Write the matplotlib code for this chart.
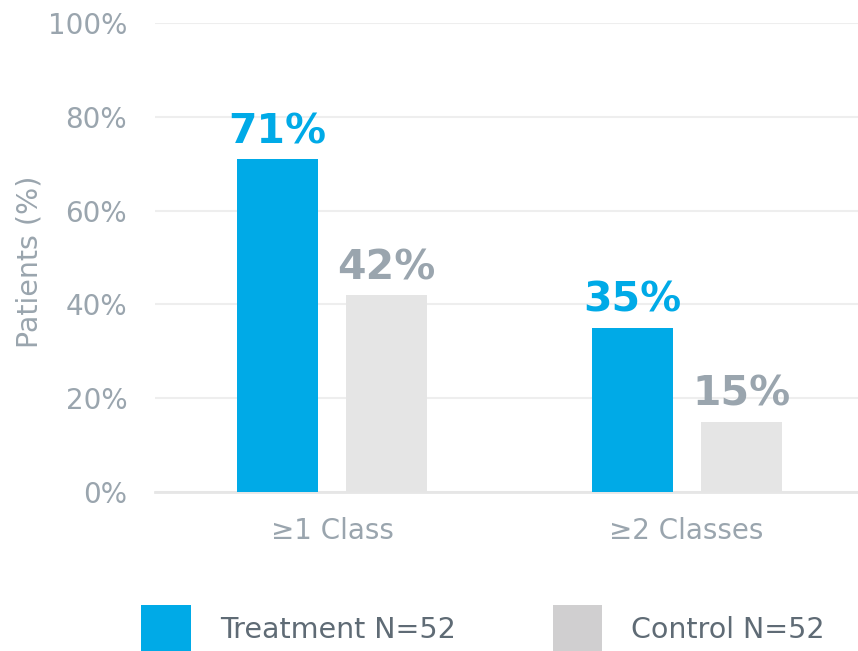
import matplotlib
matplotlib.use("Agg")
import matplotlib.pyplot as plt
from matplotlib.patches import Patch
import numpy as np

categories = ["≥1 Class", "≥2 Classes"]
treatment = [71, 35]
control = [42, 15]
series_names = ["Treatment N=52", "Control N=52"]
yticks = [0, 20, 40, 60, 80, 100]
ytick_labels = ["0%", "20%", "40%", "60%", "80%", "100%"]

BLUE = "#00aae7"
LIGHT = "#e5e5e5"
LEGEND_LIGHT = "#d0cfd0"
AXIS_GREY = "#9aa5ae"
LEGEND_TEXT = "#5f6b75"

plt.rcParams["font.family"] = ["DejaVu Sans"]

fig = plt.figure(figsize=(8.58, 6.51), dpi=100)
ax = fig.add_axes([155 / 858, 1 - 492 / 651, 703 / 858, (492 - 23) / 651])

x = np.arange(len(categories))
width = 0.2285
offset = 0.1537

ax.bar(x - offset, treatment, width, color=BLUE, zorder=3)
ax.bar(x + offset, control, width, color=LIGHT, zorder=3)

for xi, v in zip(x - offset, treatment):
    ax.annotate(f"{v}%", (xi, v), xytext=(0, 11.5), textcoords="offset points",
                ha="center", va="baseline", fontsize=29.5, fontweight="bold", color=BLUE)
for xi, v in zip(x + offset, control):
    ax.annotate(f"{v}%", (xi, v), xytext=(0, 11.5), textcoords="offset points",
                ha="center", va="baseline", fontsize=29.5, fontweight="bold", color=AXIS_GREY)

ax.set_xlim(-0.4993, 1.4837)
ax.set_ylim(0, 100)
ax.set_yticks(yticks)
ax.set_yticklabels(ytick_labels)
ax.set_xticks(x)
ax.set_xticklabels(categories)
ax.tick_params(axis="y", length=0, pad=20, labelsize=20, labelcolor=AXIS_GREY)
ax.tick_params(axis="x", length=0, pad=18, labelsize=20, labelcolor=AXIS_GREY)

ax.grid(axis="y", color="#eeeeee", linewidth=1.5, zorder=0)
ax.set_axisbelow(True)
for s in ["top", "right", "left"]:
    ax.spines[s].set_visible(False)
ax.spines["bottom"].set_color("#e6e6e6")
ax.spines["bottom"].set_linewidth(2)

ax.set_ylabel("Patients (%)", fontsize=20.5, color=AXIS_GREY)
ax.yaxis.set_label_coords(-0.158, 0.49)

handles = [Patch(facecolor=BLUE, edgecolor="none"),
           Patch(facecolor=LEGEND_LIGHT, edgecolor="none")]
fs = 20.5
fig.legend(handles, series_names, loc="center left",
           bbox_to_anchor=(141 / 858, 1 - 629 / 651), ncol=2, frameon=False,
           fontsize=fs, labelcolor=LEGEND_TEXT, borderpad=0, borderaxespad=0,
           handlelength=1.75, handleheight=2.2, handletextpad=1.02,
           columnspacing=3.4)

fig.savefig("out.png", dpi=100)
